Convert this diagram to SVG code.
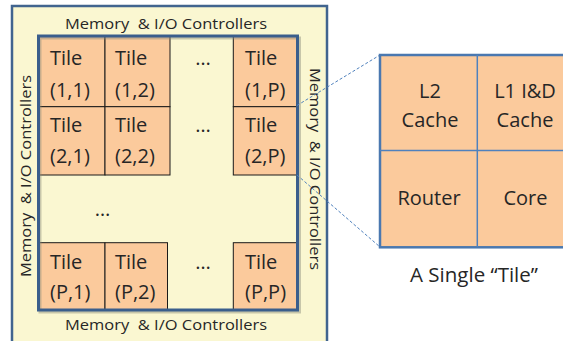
<svg xmlns="http://www.w3.org/2000/svg" width="563" height="341" viewBox="0 0 563 341">
  <style>
    text { font-family: "Open Sans", "Liberation Sans", sans-serif; fill: #262626; }
    .chip { fill: #FAF7D1; stroke: #41648F; stroke-width: 2.5; }
    .array { fill: none; stroke: #3A5E8C; stroke-width: 3; }
    .array-shadow { fill: none; stroke: #8A8A7A; stroke-width: 3; opacity: 0.45; }
    .tile { fill: #FBCA9C; stroke: #1A1A1A; stroke-width: 1; }
    .tlabel { font-size: 20px; }
    .ctrl { font-size: 15px; white-space: pre; }
    .detail { fill: #FBCA9C; stroke: #4A78B0; stroke-width: 2.5; }
    .divider { stroke: #4F81BD; stroke-width: 1.5; }
    .dlabel { font-size: 20px; text-anchor: middle; }
    .zoom { stroke: #4F81BD; stroke-width: 1; stroke-dasharray: 3 2; fill: none; }
  </style>

  <!-- chip outline with controller ring -->
  <g id="chip">
    <rect class="chip" x="12" y="6" width="315" height="340"/>
  </g>

  <g id="controllers">
    <text class="ctrl" x="65" y="29" textLength="202" lengthAdjust="spacingAndGlyphs">Memory  &amp; I/O Controllers</text>
    <text class="ctrl" x="65" y="330" textLength="202" lengthAdjust="spacingAndGlyphs">Memory  &amp; I/O Controllers</text>
    <text class="ctrl" transform="translate(31,277) rotate(-90)" x="0" y="0" textLength="202" lengthAdjust="spacingAndGlyphs">Memory  &amp; I/O Controllers</text>
    <text class="ctrl" transform="translate(310,68) rotate(90)" x="0" y="0" textLength="202" lengthAdjust="spacingAndGlyphs">Memory  &amp; I/O Controllers</text>
  </g>

  <!-- tile array -->
  <g id="tile-1-1"><rect class="tile" x="38" y="36" width="67" height="70.7"/><text class="tlabel" x="50" y="65">Tile</text><text class="tlabel" x="50" y="96.5">(1,1)</text></g>
  <g id="tile-1-2"><rect class="tile" x="105" y="36" width="65" height="70.7"/><text class="tlabel" x="115" y="65">Tile</text><text class="tlabel" x="115" y="96.5">(1,2)</text></g>
  <g id="tile-1-P"><rect class="tile" x="233.3" y="36" width="64" height="70.7"/><text class="tlabel" x="245" y="65">Tile</text><text class="tlabel" x="245" y="96.5">(1,P)</text></g>

  <g id="tile-2-1"><rect class="tile" x="38" y="106.7" width="67" height="68.3"/><text class="tlabel" x="50" y="132">Tile</text><text class="tlabel" x="50" y="163">(2,1)</text></g>
  <g id="tile-2-2"><rect class="tile" x="105" y="106.7" width="65" height="68.3"/><text class="tlabel" x="115" y="132">Tile</text><text class="tlabel" x="115" y="163">(2,2)</text></g>
  <g id="tile-2-P"><rect class="tile" x="233.3" y="106.7" width="64" height="68.3"/><text class="tlabel" x="245" y="132">Tile</text><text class="tlabel" x="245" y="163">(2,P)</text></g>

  <g id="tile-P-1"><rect class="tile" x="38" y="242.7" width="67" height="67.3"/><text class="tlabel" x="50" y="268.5">Tile</text><text class="tlabel" x="50" y="299">(P,1)</text></g>
  <g id="tile-P-2"><rect class="tile" x="105" y="242.7" width="62.5" height="67.3"/><text class="tlabel" x="115" y="268.5">Tile</text><text class="tlabel" x="115" y="299">(P,2)</text></g>
  <g id="tile-P-P"><rect class="tile" x="233.3" y="242.7" width="64" height="67.3"/><text class="tlabel" x="245" y="268.5">Tile</text><text class="tlabel" x="245" y="299">(P,P)</text></g>

  <g id="ellipses">
    <text class="tlabel" x="203" y="65" text-anchor="middle">…</text>
    <text class="tlabel" x="203" y="132" text-anchor="middle">…</text>
    <text class="tlabel" x="102.5" y="216" text-anchor="middle">…</text>
    <text class="tlabel" x="203" y="268.5" text-anchor="middle">…</text>
  </g>

  <g id="tile-array-border">
    <rect class="array-shadow" x="40" y="38" width="259.5" height="274"/>
    <rect class="array" x="38.5" y="36" width="259" height="274"/>
  </g>

  <!-- zoom-in guides -->
  <g id="connectors">
    <line class="zoom" x1="297" y1="105.5" x2="380" y2="55"/>
    <line class="zoom" x1="297" y1="175" x2="380" y2="247"/>
  </g>

  <!-- a single tile, enlarged -->
  <g id="single-tile">
    <rect class="detail" x="380" y="55" width="200" height="192.3"/>
    <line class="divider" x1="477.3" y1="55" x2="477.3" y2="247.3"/>
    <line class="divider" x1="380" y1="150.5" x2="580" y2="150.5"/>
    <text class="dlabel" x="430" y="98">L2</text>
    <text class="dlabel" x="430" y="126.5">Cache</text>
    <text class="dlabel" x="525" y="98">L1 I&amp;D</text>
    <text class="dlabel" x="525" y="126.5">Cache</text>
    <text class="dlabel" x="429" y="205">Router</text>
    <text class="dlabel" x="525.5" y="205">Core</text>
  </g>

  <g id="caption">
    <text class="dlabel" x="474" y="281.5" style="font-size:20.5px">A Single “Tile”</text>
  </g>
</svg>
